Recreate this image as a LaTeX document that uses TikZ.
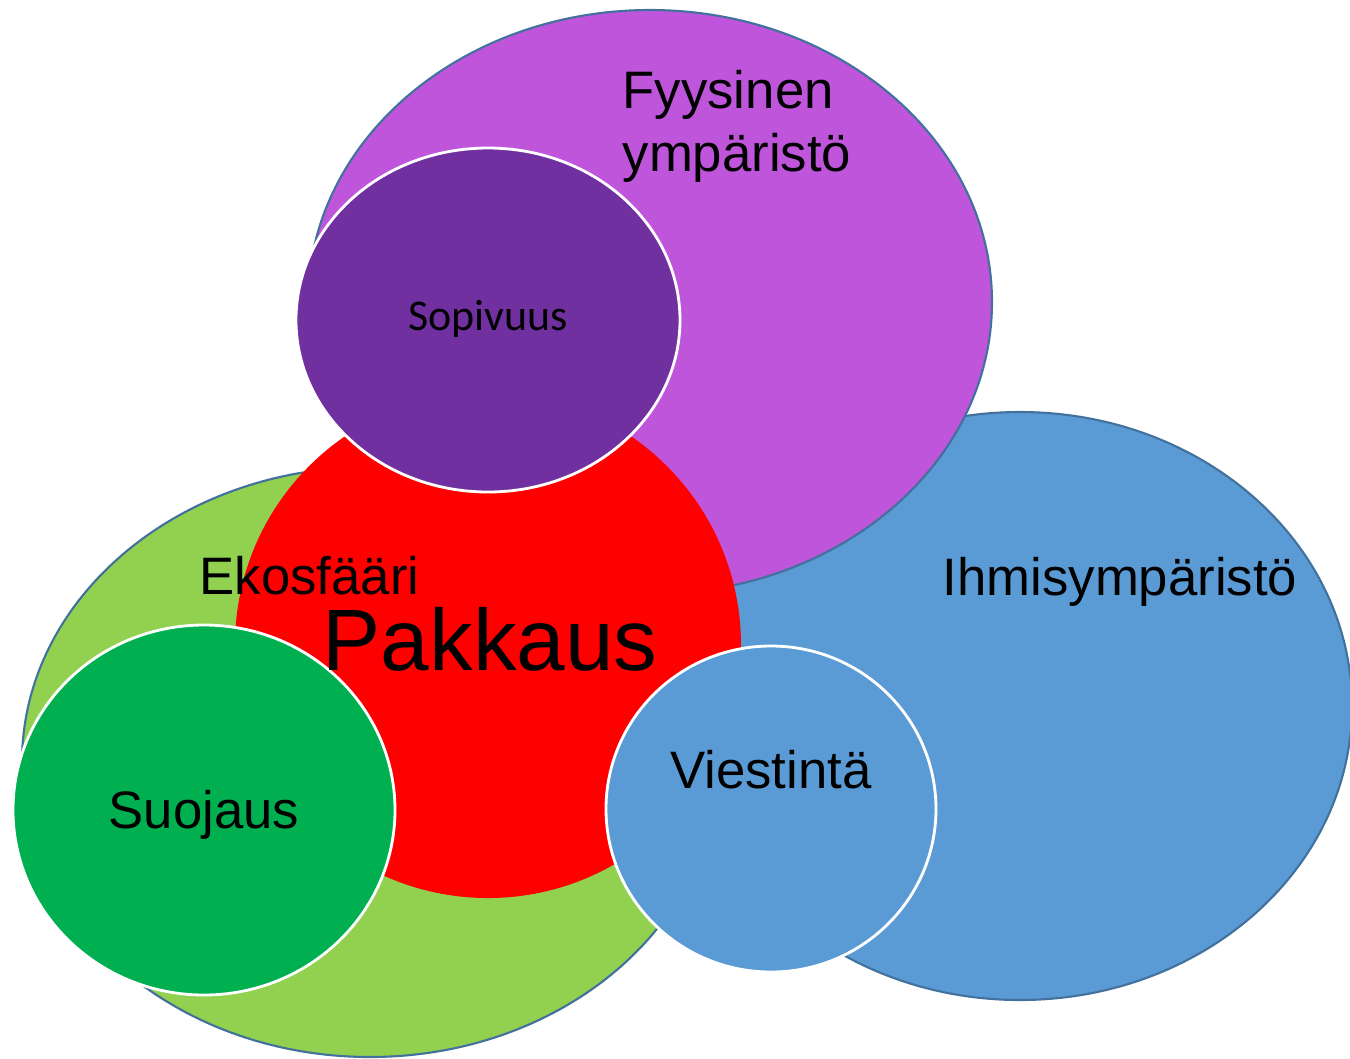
\documentclass[tikz,border=0pt]{standalone}
\usepackage{fontspec}
\setmainfont{Liberation Sans}
\newfontfamily\calibrifont{Carlito}

\definecolor{ekogreen}{RGB}{146,208,80}
\definecolor{ihmisblue}{RGB}{91,155,213}
\definecolor{fyyspurple}{RGB}{190,85,218}
\definecolor{sopipurple}{RGB}{112,48,160}
\definecolor{suojagreen}{RGB}{0,176,80}
\definecolor{edgeblue}{RGB}{65,113,156}

\begin{document}
\begin{tikzpicture}[
    bigshape/.style={draw=edgeblue,line width=0.6pt},
    smallshape/.style={draw=white,line width=0.8pt},
    label/.style={inner sep=0pt,font=\fontsize{15}{17.9}\selectfont}
  ]
  \useasboundingbox (0,0) rectangle (13.5,-10.58);

  % outer areas
  \filldraw[bigshape,fill=ekogreen] (3.70,-7.62) ellipse (3.48 and 2.95);
  \filldraw[bigshape,fill=ihmisblue] (10.20,-7.06) ellipse (3.32 and 2.94);
  \filldraw[bigshape,fill=fyyspurple] (6.50,-3.02) ellipse (3.42 and 2.92);

  % package in the middle
  \fill[red] (4.88,-6.45) circle (2.53);

  % inner areas
  \filldraw[smallshape,fill=sopipurple] (4.88,-3.20) ellipse (1.92 and 1.72);
  \filldraw[smallshape,fill=suojagreen] (2.04,-8.10) ellipse (1.91 and 1.85);
  \filldraw[smallshape,fill=ihmisblue] (7.71,-8.09) ellipse (1.65 and 1.63);

  \node[label,anchor=north west,align=left] (fyysinen) at (6.22,-0.70) {Fyysinen\\ympäristö};
  \node[label,anchor=base west] (ekosfaari) at (1.99,-5.94) {Ekosfääri};
  \node[label,anchor=base west] (ihmis) at (9.42,-5.95) {Ihmisympäristö};
  \node[label,anchor=base,font=\fontsize{24.8}{28}\selectfont] (pakkaus) at (4.90,-6.70) {Pakkaus};
  \node[label,anchor=base,font=\calibrifont\fontsize{12.5}{15}\selectfont] (sopivuus) at (4.88,-3.30) {Sopivuus};
  \node[label,anchor=base] (suojaus) at (2.04,-8.28) {Suojaus};
  \node[label,anchor=base] (viestinta) at (7.71,-7.88) {Viestintä};

\end{tikzpicture}
\end{document}
